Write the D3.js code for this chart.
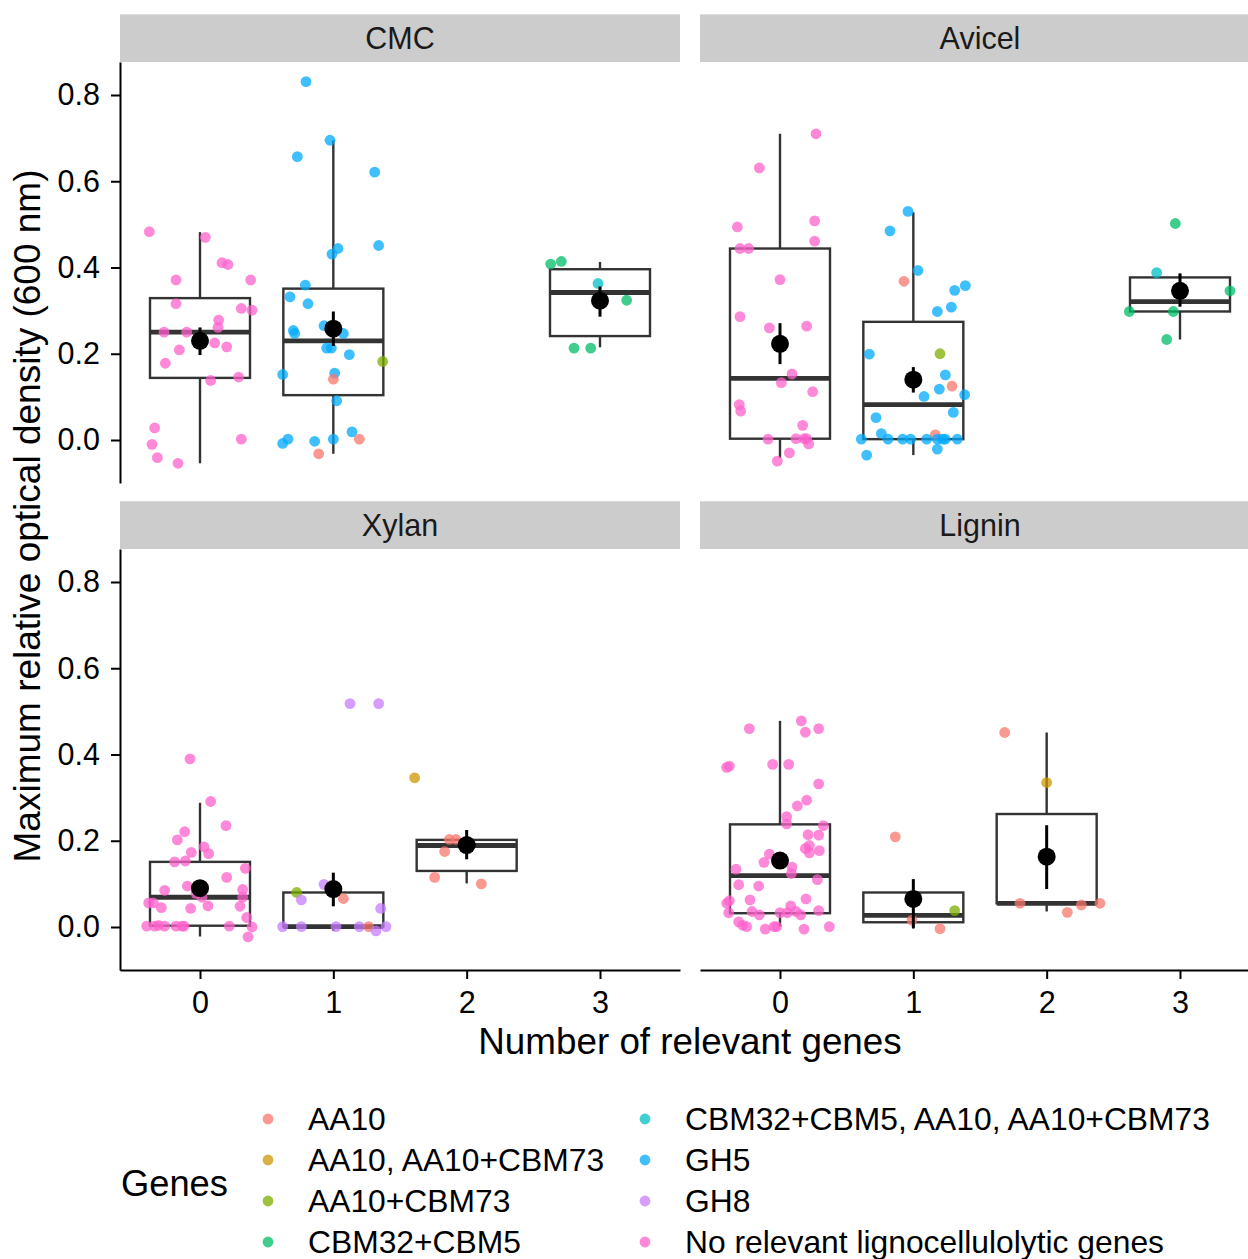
<!DOCTYPE html>
<html>
<head>
	<meta charset="utf-8">
	<title>Maximum relative optical density</title>
	<script src="https://d3js.org/d3.v7.min.js"></script>
	<style type="text/css">
		body{ margin:0; background:#fff; }
		svg text{ font-family:"Liberation Sans", Arial, sans-serif; }
		.axis path,
		.axis line{ fill:none; stroke:#000; stroke-width:2; }
		.axis text{ font-size:30.5px; fill:#000; }
	</style>
</head>
<body>
	<script type="text/javascript">
		var w = 1248;
		var h = 1259;

		// legend / colour groups
		var genes = ["AA10", "AA10, AA10+CBM73", "AA10+CBM73", "CBM32+CBM5",
			"CBM32+CBM5, AA10, AA10+CBM73", "GH5", "GH8", "No relevant lignocellulolytic genes"];
		var geneColors = ["#F8766D", "#CD9600", "#7CAE00", "#00BE67", "#00BFC4", "#00A9FF", "#C77CFF", "#FF61CC"];

		var facets = ["CMC", "Avicel", "Xylan", "Lignin"];
		var xTicks = [0, 1, 2, 3];
		var yTicks = [0, 0.2, 0.4, 0.6, 0.8];

		// jittered points: [genes count, jitter, value, gene index]
		var cmcPoints = [
			[0,-0.38,0.483,7],[0,0.04,0.470,7],[0,0.165,0.411,7],[0,0.21,0.407,7],[0,-0.18,0.371,7],[0,0.38,0.371,7],
			[0,-0.18,0.316,7],[0,0.31,0.305,7],[0,0.39,0.301,7],[0,0.14,0.278,7],[0,0.135,0.261,7],[0,-0.27,0.250,7],
			[0,-0.1,0.250,7],[0,0.11,0.225,7],[0,0.2,0.216,7],[0,-0.155,0.209,7],[0,-0.26,0.178,7],[0,0.08,0.138,7],
			[0,0.29,0.146,7],[0,-0.34,0.028,7],[0,-0.36,-0.010,7],[0,0.31,0.002,7],[0,-0.32,-0.041,7],[0,-0.165,-0.054,7],
			[1,-0.205,0.831,5],[1,-0.025,0.695,5],[1,-0.27,0.657,5],[1,0.31,0.621,5],[1,0.34,0.451,5],[1,0.035,0.444,5],
			[1,-0.01,0.431,5],[1,-0.21,0.359,5],[1,-0.325,0.332,5],[1,-0.19,0.316,5],[1,-0.07,0.265,5],[1,-0.3,0.254,5],
			[1,-0.29,0.247,5],[1,0.075,0.247,5],[1,-0.05,0.213,5],[1,-0.015,0.213,5],[1,0.12,0.198,5],[1,0.37,0.182,2],
			[1,-0.38,0.152,5],[1,0.01,0.155,5],[1,0,0.141,0],[1,0.025,0.091,5],[1,0.14,0.019,5],[1,-0.34,0.002,5],
			[1,-0.38,-0.008,5],[1,-0.14,-0.003,5],[1,0,0.002,5],[1,0.195,0.002,0],[1,-0.11,-0.032,0],
			[3,-0.37,0.408,3],[3,-0.29,0.414,3],[3,-0.015,0.363,4],[3,0.2,0.324,3],[3,-0.195,0.213,3],[3,-0.07,0.213,3]
		];
		var avicelPoints = [
			[0,0.27,0.710,7],[0,-0.155,0.631,7],[0,-0.32,0.494,7],[0,0.26,0.508,7],[0,0.26,0.461,7],[0,-0.3,0.444,7],
			[0,-0.235,0.444,7],[0,0,0.372,7],[0,-0.3,0.286,7],[0,-0.08,0.260,7],[0,0.2,0.264,7],[0,0.09,0.153,7],
			[0,0.01,0.133,7],[0,0.245,0.112,7],[0,-0.305,0.082,7],[0,-0.295,0.067,7],[0,0.17,0.034,7],[0,-0.09,0.002,7],
			[0,0.12,0.003,7],[0,0.18,0.003,7],[0,0.2,0.003,7],[0,0.215,-0.009,7],[0,0.07,-0.030,7],[0,-0.02,-0.049,7],
			[1,-0.04,0.530,5],[1,-0.175,0.485,5],[1,0.035,0.393,5],[1,-0.07,0.368,0],[1,0.39,0.358,5],[1,0.31,0.347,5],
			[1,0.285,0.308,5],[1,0.18,0.298,5],[1,-0.33,0.199,5],[1,0.2,0.200,2],[1,0.24,0.151,5],[1,0.29,0.125,0],
			[1,0.195,0.118,5],[1,0.08,0.101,5],[1,0.385,0.105,5],[1,0.3,0.064,5],[1,-0.28,0.052,5],[1,-0.24,0.015,5],
			[1,0.165,0.012,0],[1,-0.39,0.002,5],[1,-0.19,0.002,5],[1,-0.08,0.002,5],[1,-0.02,0.002,5],[1,0.1,0.002,5],
			[1,0.18,0.002,5],[1,0.22,0.002,5],[1,0.24,0.002,5],[1,0.33,0.002,5],[1,0.18,-0.021,5],[1,-0.35,-0.035,5],
			[3,-0.035,0.502,3],[3,-0.175,0.388,4],[3,0.375,0.346,3],[3,-0.38,0.298,3],[3,-0.05,0.298,3],[3,-0.1,0.233,3]
		];
		var xylanPoints = [
			[0,-0.075,0.390,7],[0,0.08,0.291,7],[0,0.195,0.235,7],[0,-0.115,0.221,7],[0,-0.17,0.202,7],[0,0.03,0.186,7],
			[0,-0.065,0.173,7],[0,0.065,0.170,7],[0,-0.19,0.151,7],[0,-0.11,0.153,7],[0,0.34,0.136,7],[0,0.2,0.115,7],
			[0,-0.095,0.095,7],[0,-0.265,0.085,7],[0,0.32,0.087,7],[0,-0.03,0.078,7],[0,0.015,0.069,7],[0,0.32,0.069,7],
			[0,-0.385,0.056,7],[0,-0.35,0.056,7],[0,-0.29,0.045,7],[0,-0.07,0.043,7],[0,0.06,0.049,7],[0,0.3,0.048,7],
			[0,0.35,0.022,7],[0,-0.4,0.002,7],[0,-0.34,0.002,7],[0,-0.31,0.004,7],[0,-0.265,0.002,7],[0,-0.18,0.002,7],
			[0,-0.135,0.002,7],[0,-0.12,0.002,7],[0,0.22,0.002,7],[0,0.39,0.000,7],[0,0.36,-0.023,7],
			[1,0.125,0.518,6],[1,0.34,0.518,6],[1,-0.275,0.080,2],[1,-0.07,0.099,6],[1,-0.24,0.063,6],[1,0.075,0.066,0],
			[1,0.355,0.043,6],[1,-0.38,0.001,6],[1,-0.24,0.001,6],[1,0.02,0.001,6],[1,0.195,0.001,6],[1,0.395,0.001,6],
			[1,0.265,0.001,0],[1,0.32,-0.009,6],
			[2,-0.39,0.346,1],[2,-0.13,0.203,0],[2,-0.08,0.203,0],[2,-0.165,0.175,0],[2,-0.24,0.115,0],[2,0.11,0.100,0]
		];
		var ligninPoints = [
			[0,0.16,0.478,7],[0,-0.23,0.460,7],[0,0.19,0.452,7],[0,0.29,0.460,7],[0,-0.4,0.370,7],[0,-0.38,0.373,7],
			[0,-0.055,0.377,7],[0,0.065,0.377,7],[0,0.29,0.332,7],[0,0.2,0.294,7],[0,0.13,0.281,7],[0,0.05,0.256,7],
			[0,0.05,0.239,7],[0,0.325,0.235,7],[0,0.21,0.214,7],[0,0.29,0.213,7],[0,0.19,0.182,7],[0,0.22,0.189,7],
			[0,0.22,0.172,7],[0,0.295,0.177,7],[0,-0.08,0.169,7],[0,-0.12,0.150,7],[0,0.09,0.139,7],[0,-0.33,0.134,7],
			[0,0.085,0.124,7],[0,0.28,0.110,7],[0,-0.31,0.098,7],[0,-0.16,0.095,7],[0,-0.225,0.063,7],[0,0.195,0.065,7],
			[0,-0.4,0.055,7],[0,-0.38,0.061,7],[0,0.08,0.049,7],[0,-0.21,0.036,7],[0,-0.155,0.028,7],[0,0,0.033,7],
			[0,0.055,0.033,7],[0,0.12,0.036,7],[0,0.155,0.028,7],[0,0.29,0.038,7],[0,-0.385,0.033,7],[0,-0.31,0.012,7],
			[0,-0.28,0.004,7],[0,-0.25,0.001,7],[0,-0.11,-0.005,7],[0,-0.045,0.001,7],[0,-0.025,0.001,7],[0,0.18,-0.005,7],
			[0,0.37,0.001,7],
			[1,-0.135,0.209,0],[1,0.31,0.038,2],[1,-0.01,0.016,0],[1,0.2,-0.004,0],
			[2,-0.315,0.451,0],[2,0,0.335,1],[2,-0.2,0.055,0],[2,0.26,0.051,0],[2,0.4,0.055,0],[2,0.155,0.034,0]
		];

		// box + mean summaries: [genes count, lower whisker, q1, median, q3, upper whisker, mean, mean-se, mean+se]
		var cmcBoxes = [
			[0,-0.054,0.144,0.250,0.329,0.482,0.230,0.197,0.261],
			[1,-0.032,0.104,0.230,0.351,0.695,0.258,0.218,0.298],
			[3,0.215,0.241,0.342,0.396,0.413,0.323,0.286,0.356]
		];
		var avicelBoxes = [
			[0,-0.042,0.003,0.143,0.444,0.710,0.223,0.176,0.271],
			[1,-0.035,0.002,0.082,0.274,0.528,0.140,0.110,0.169],
			[3,0.233,0.298,0.321,0.377,0.386,0.346,0.309,0.386]
		];
		var xylanBoxes = [
			[0,-0.022,0.003,0.069,0.151,0.288,0.090,0.075,0.105],
			[1,-0.009,0.001,0.001,0.080,0.099,0.088,0.048,0.126],
			[2,0.101,0.130,0.189,0.202,0.203,0.190,0.157,0.225]
		];
		var ligninBoxes = [
			[0,0.001,0.032,0.119,0.238,0.478,0.154,0.138,0.170],
			[1,-0.004,0.011,0.027,0.080,0.080,0.065,-0.002,0.111],
			[2,0.036,0.055,0.055,0.262,0.451,0.163,0.088,0.236]
		];

		var pointsByFacet = [cmcPoints, avicelPoints, xylanPoints, ligninPoints];
		var boxesByFacet = [cmcBoxes, avicelBoxes, xylanBoxes, ligninBoxes];

		// layout (note: "top" is taken by window.top, so prefixed names)
		var panelW = 560, panelH = 421;
		var panelLeft = 120, panelTop = 62;
		var colStep = 580, rowStep = 487;
		var stripH = 47.7;
		var boxHalf = 0.375;
		var ptR = 5.4;

		var svg = d3.select("body").append("svg")
			.attr("width", w)
			.attr("height", h);

		var x = d3.scaleLinear().domain([-0.6, 3.6]).range([0, panelW]);
		var y = d3.scaleLinear().domain([-0.0997, 0.8765]).range([panelH, 0]);

		facets.forEach(function(name, i){
			var col = i % 2, row = Math.floor(i / 2);
			var g = svg.append("g")
				.attr("transform", "translate(" + (panelLeft + col*colStep) + "," + (panelTop + row*rowStep) + ")");

			// strip
			g.append("rect")
				.attr("x", 0).attr("y", -stripH)
				.attr("width", panelW).attr("height", stripH)
				.attr("fill", "#cccccc");
			g.append("text")
				.text(name)
				.attr("x", panelW/2).attr("y", -stripH/2)
				.attr("dy", "0.35em")
				.attr("text-anchor", "middle")
				.attr("font-size", "30.5px")
				.attr("fill", "#1a1a1a");

			var boxes = boxesByFacet[i];

			// whiskers
			g.selectAll(".wlo").data(boxes).enter().append("line")
				.attr("x1", function(d){ return x(d[0]); })
				.attr("x2", function(d){ return x(d[0]); })
				.attr("y1", function(d){ return y(d[1]); })
				.attr("y2", function(d){ return y(d[2]); })
				.attr("stroke", "#333").attr("stroke-width", 2.4);
			g.selectAll(".whi").data(boxes).enter().append("line")
				.attr("x1", function(d){ return x(d[0]); })
				.attr("x2", function(d){ return x(d[0]); })
				.attr("y1", function(d){ return y(d[4]); })
				.attr("y2", function(d){ return y(d[5]); })
				.attr("stroke", "#333").attr("stroke-width", 2.4);

			// boxes
			g.selectAll(".box").data(boxes).enter().append("rect")
				.attr("x", function(d){ return x(d[0] - boxHalf); })
				.attr("width", function(d){ return x(d[0] + boxHalf) - x(d[0] - boxHalf); })
				.attr("y", function(d){ return y(d[4]); })
				.attr("height", function(d){ return y(d[2]) - y(d[4]); })
				.attr("fill", "white")
				.attr("stroke", "#333").attr("stroke-width", 2.4);
			g.selectAll(".med").data(boxes).enter().append("line")
				.attr("x1", function(d){ return x(d[0] - boxHalf); })
				.attr("x2", function(d){ return x(d[0] + boxHalf); })
				.attr("y1", function(d){ return y(d[3]); })
				.attr("y2", function(d){ return y(d[3]); })
				.attr("stroke", "#333").attr("stroke-width", 4.8);

			// jittered points
			g.selectAll(".pt").data(pointsByFacet[i]).enter().append("circle")
				.attr("cx", function(d){ return x(d[0] + d[1]); })
				.attr("cy", function(d){ return y(d[2]); })
				.attr("r", ptR)
				.attr("fill", function(d){ return geneColors[d[3]]; })
				.attr("fill-opacity", 0.75);

			// mean +- se
			g.selectAll(".err").data(boxes).enter().append("line")
				.attr("x1", function(d){ return x(d[0]); })
				.attr("x2", function(d){ return x(d[0]); })
				.attr("y1", function(d){ return y(d[7]); })
				.attr("y2", function(d){ return y(d[8]); })
				.attr("stroke", "black").attr("stroke-width", 3);
			g.selectAll(".mean").data(boxes).enter().append("circle")
				.attr("cx", function(d){ return x(d[0]); })
				.attr("cy", function(d){ return y(d[6]); })
				.attr("r", 9)
				.attr("fill", "black");

			// axes: y on left column, x on bottom row
			if(col == 0){
				g.append("g").attr("class", "axis")
					.call(d3.axisLeft(y).tickValues(yTicks).tickFormat(d3.format(".1f"))
						.tickSize(9).tickSizeOuter(0).tickPadding(11));
			}
			if(row == 1){
				g.append("g").attr("class", "axis")
					.attr("transform", "translate(0," + panelH + ")")
					.call(d3.axisBottom(x).tickValues(xTicks).tickFormat(d3.format("d"))
						.tickSize(9).tickSizeOuter(0).tickPadding(12));
			}
		});
		svg.selectAll(".axis text").attr("font-family", "Liberation Sans, Arial, sans-serif");

		// axis titles
		svg.append("text")
			.text("Number of relevant genes")
			.attr("x", panelLeft + (colStep + panelW)/2).attr("y", 1054)
			.attr("text-anchor", "middle")
			.attr("font-size", "36.8px");
		svg.append("text")
			.text("Maximum relative optical density (600 nm)")
			.attr("transform", "translate(40," + (panelTop + (rowStep + panelH)/2) + ") rotate(-90)")
			.attr("text-anchor", "middle")
			.attr("font-size", "37px");

		// legend
		svg.append("text")
			.text("Genes")
			.attr("x", 121).attr("y", 1183)
			.attr("dy", "0.35em")
			.attr("font-size", "36.3px");
		var legend = svg.selectAll(".key").data(genes).enter().append("g")
			.attr("transform", function(d, i){
				return "translate(" + (268 + Math.floor(i/4)*377) + "," + (1119 + (i%4)*41) + ")";
			});
		legend.append("circle")
			.attr("r", ptR)
			.attr("fill", function(d, i){ return geneColors[i]; })
			.attr("fill-opacity", 0.75);
		legend.append("text")
			.text(function(d){ return d; })
			.attr("x", 40)
			.attr("dy", "0.35em")
			.attr("font-size", "31.8px");
	</script>
</body>
</html>
